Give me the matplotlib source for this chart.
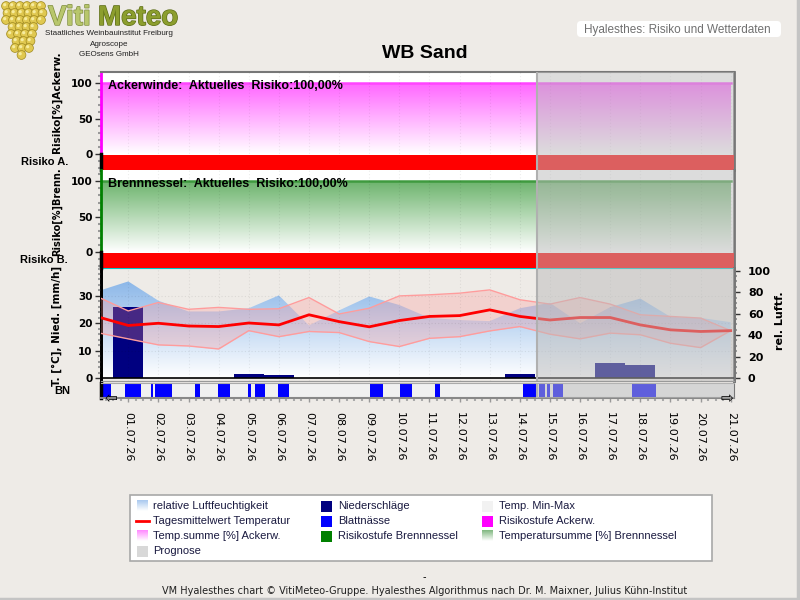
import numpy as np
import matplotlib
matplotlib.use('Agg')
import matplotlib.pyplot as plt
from matplotlib.colors import LinearSegmentedColormap
from matplotlib.patches import Rectangle, FancyBboxPatch, Circle
from matplotlib.ticker import MultipleLocator
import matplotlib.patheffects as pe

plt.rcParams['font.family'] = ['DejaVu Sans']

# ------------------------------------------------------------------ data
date_labels = ['01.07.26', '02.07.26', '03.07.26', '04.07.26', '05.07.26',
               '06.07.26', '07.07.26', '08.07.26', '09.07.26', '10.07.26',
               '11.07.26', '12.07.26', '13.07.26', '14.07.26', '15.07.26',
               '16.07.26', '17.07.26', '18.07.26', '19.07.26', '20.07.26',
               '21.07.26']
label_days = list(range(0, 21))
days = list(range(-1, 21))  # 0 = 01.07.26, -1 = 30.06.26

temp_mean = [22.3, 19.2, 20.0, 19.0, 18.8, 20.1, 19.4, 23.1, 20.6, 18.7, 21.0,
             22.5, 22.8, 24.9, 22.5, 21.2, 22.1, 22.1, 19.4, 17.6, 17.0, 17.3]
temp_max = [29.6, 24.5, 27.6, 25.1, 25.8, 25.1, 25.3, 29.4, 23.4, 25.5, 30.0,
            30.4, 31.0, 32.2, 28.6, 27.0, 29.4, 27.0, 23.1, 22.5, 21.9, 17.3]
temp_min = [16.5, 14.3, 12.1, 11.7, 10.6, 17.3, 15.1, 17.0, 16.6, 13.3, 11.5,
            14.5, 15.1, 17.2, 18.8, 16.0, 14.3, 16.4, 15.8, 12.7, 11.1, 17.3]
humidity = [81, 90, 72, 62, 62, 65, 77, 49, 63, 76, 68,
            56, 54, 53, 65, 70, 51, 66, 74, 57, 56, 52]
precip = [0, 25.8, 0, 0, 0, 1.6, 1.1, 0, 0, 0, 0,
          0, 0, 0, 1.6, 0, 0, 5.6, 4.9, 0, 0, 0]
tsum_ackerw = [100] * 22
tsum_brenn = [100] * 22
risk_ackerw = [3] * 22
risk_brenn = [3] * 22
risk_colors = {1: '#00c000', 2: '#ffff00', 3: '#ff0000'}

# leaf wetness (Blattnaesse) intervals, in days
bn_start = [-0.88, -0.11, 0.75, 0.90, 2.21, 2.98, 3.98, 4.21, 4.98, 8.02,
            9.02, 10.18, 13.11, 13.65, 13.90, 14.10, 16.73]
bn_end = [-0.57, 0.42, 0.83, 1.45, 2.38, 3.38, 4.07, 4.54, 5.34, 8.45,
          9.41, 10.35, 13.54, 13.84, 14.00, 14.42, 17.52]

prognose_start = 13.57
XLIM = (-0.906, 20.11)

# ------------------------------------------------------------------ helpers
W, H = 800, 600
BGC = '#eeebe7'


def fpos(x0, y0, x1, y1):
    return [x0 / W, 1 - y1 / H, (x1 - x0) / W, (y1 - y0) / H]


def gradient_area(ax, x, y, color, vmax, zorder=1):
    poly = ax.fill_between(x, 0, y, facecolor='none', edgecolor='none')
    cmap = LinearSegmentedColormap.from_list('g', ['#ffffff', color])
    grad = np.linspace(0, 1, 256).reshape(-1, 1)
    im = ax.imshow(grad, cmap=cmap, origin='lower', aspect='auto',
                   extent=[min(x), max(x), 0, vmax], zorder=zorder,
                   interpolation='bilinear')
    im.set_clip_path(poly.get_paths()[0], transform=ax.transData)


def prognose(ax):
    ax.axvspan(prognose_start, XLIM[1], facecolor='#bbbbbb', alpha=0.51,
               lw=0, zorder=10)
    ax.axvline(prognose_start, color='#b0b0b0', lw=1.5, zorder=11)


def day_grid(ax):
    for d in label_days:
        ax.axvline(d, color='#000000', alpha=0.07, lw=0.8, ls=(0, (1, 2)),
                   zorder=3)


fig = plt.figure(figsize=(8, 6), dpi=100, facecolor=BGC)

# background / decoration axes in pixel coordinates
bg = fig.add_axes([0, 0, 1, 1])
bg.set_xlim(0, W)
bg.set_ylim(H, 0)
bg.axis('off')

# ------------------------------------------------------------------ risk panels
def risk_panel(rect, tsum, risk, grad_color, line_color, spine_color, text):
    ax = fig.add_axes(rect)
    ax.set_facecolor('white')
    gradient_area(ax, days, tsum, grad_color, 100, zorder=1)
    ax.plot(days, tsum, color=line_color, lw=1.8, zorder=2)
    ax.bar(days, [-22.5 + 1.2] * len(days), bottom=-1.2, width=1.0,
           color=[risk_colors[r] for r in risk], lw=0, zorder=4)
    day_grid(ax)
    prognose(ax)
    ax.set_xlim(*XLIM)
    ax.set_ylim(-22.5, 116)
    ax.set_xticks([])
    ax.set_yticks([0, 50, 100], labels=['0', '50', '100'],
                  fontweight='bold', fontsize=7.5)
    ax.yaxis.set_minor_locator(MultipleLocator(10))
    ax.tick_params(axis='y', which='major', length=4, width=1, color='#333333',
                   pad=2)
    ax.tick_params(axis='y', which='minor', length=2.5, width=1.5,
                   color='#999999')
    ax.spines['left'].set_color(spine_color)
    ax.spines['left'].set_linewidth(2)
    ax.spines['right'].set_color('#777777')
    ax.spines['right'].set_linewidth(2)
    ax.spines['top'].set_color('#777777')
    ax.spines['top'].set_linewidth(1.5)
    ax.spines['bottom'].set_color('#00c8c8')
    ax.spines['bottom'].set_linewidth(1.5)
    ax.axvline(XLIM[0], ymin=0, ymax=22.5 / 138.5, color='black', lw=2.5,
               zorder=12, clip_on=False)
    ax.text(0.011, 0.86, text, transform=ax.transAxes, fontsize=9,
            fontweight='bold', family='Liberation Sans', va='center',
            zorder=13)
    return ax


ax1 = risk_panel(fpos(101, 72, 734, 170), tsum_ackerw, risk_ackerw,
                 '#ff66ff', '#ff44ff', '#ff00ff',
                 'Ackerwinde:  Aktuelles  Risiko:100,00%')
ax2 = risk_panel(fpos(101, 170, 734, 268), tsum_brenn, risk_brenn,
                 '#6db46d', '#3f9a3f', '#008000',
                 'Brennnessel:  Aktuelles  Risiko:100,00%')
ax2.spines['top'].set_visible(False)

# ------------------------------------------------------------------ weather panel
ax3 = fig.add_axes(fpos(101, 268, 734, 381))
ax3r = ax3.twinx()
ax3.set_zorder(ax3r.get_zorder() + 1)
ax3.patch.set_visible(False)
ax3r.set_facecolor('white')

gradient_area(ax3r, days, humidity, '#7fafe6', 100, zorder=1)

ax3.bar(days, precip, width=1.0, color='#000080', lw=0, zorder=2)
ax3.fill_between(days, temp_min, temp_max, color='#ff9090', alpha=0.28, lw=0,
                 zorder=3)
ax3.plot(days, temp_max, color='#ff9c9c', lw=1, zorder=4)
ax3.plot(days, temp_min, color='#ff9c9c', lw=1, zorder=4)
ax3.plot(days, temp_mean, color='#ff0000', lw=2, zorder=5)
ax3.axhline(0, color='black', lw=1.2, zorder=6)
for v in (10, 20, 30):
    ax3.axhline(v, color='#000000', alpha=0.08, lw=0.8, ls=(0, (1, 2)),
                zorder=3)
day_grid(ax3)
prognose(ax3)

ax3.set_xlim(*XLIM)
ax3r.set_xlim(*XLIM)
ax3.set_ylim(-1.1, 40.2)
ax3r.set_ylim(-2.8, 102.5)
ax3.set_xticks([])
ax3.set_yticks([0, 10, 20, 30], labels=['0', '10', '20', '30'],
               fontweight='bold', fontsize=7.5)
ax3.yaxis.set_minor_locator(MultipleLocator(2))
ax3r.set_yticks([0, 20, 40, 60, 80, 100],
                labels=['0', '20', '40', '60', '80', '100'],
                fontweight='bold', fontsize=8)
ax3r.yaxis.set_minor_locator(MultipleLocator(5))
for a in (ax3, ax3r):
    a.tick_params(axis='y', which='major', length=4, width=1,
                  color='#333333', pad=2)
    a.tick_params(axis='y', which='minor', length=2.5, width=1.5,
                  color='#999999')
ax3r.tick_params(axis='y', which='major', pad=6)
for a in (ax3, ax3r):
    a.spines['top'].set_visible(False)
    a.spines['bottom'].set_color('#999999')
    a.spines['left'].set_color('black')
    a.spines['left'].set_linewidth(2)
    a.spines['right'].set_color('#777777')
    a.spines['right'].set_linewidth(2)

# ------------------------------------------------------------------ BN strip
axbn = fig.add_axes(fpos(101, 383, 734, 398))
axbn.set_facecolor('#f0f0f0')
widths = [e - s for s, e in zip(bn_start, bn_end)]
axbn.broken_barh(list(zip(bn_start, widths)), (0.1, 0.9),
                 facecolor='#0000ff', lw=0, zorder=2)
axbn.broken_barh(list(zip(bn_start, widths)), (0.0, 0.1),
                 facecolor='#f0e000', lw=0, zorder=2)
prognose(axbn)
axbn.set_xlim(*XLIM)
axbn.set_ylim(0, 1)
axbn.set_yticks([])
axbn.set_xticks(label_days, labels=date_labels, rotation=270, fontsize=8,
                va='top', ha='center')
axbn.xaxis.set_minor_locator(MultipleLocator(0.25))
axbn.tick_params(axis='x', which='major', length=3, width=1,
                 color='#999999', pad=7)
axbn.tick_params(axis='x', which='minor', length=2, width=1.5,
                 color='#aaaaaa')
axbn.spines['left'].set_color('black')
axbn.spines['left'].set_linewidth(2.5)
axbn.spines['bottom'].set_color('#888888')
axbn.spines['bottom'].set_linewidth(1.5)
axbn.spines['top'].set_color('#aaaaaa')
axbn.spines['right'].set_color('#777777')
axbn.text(0.015, 0.0, '\u21e6', transform=axbn.transAxes, fontsize=11,
          ha='center', va='center', zorder=20, clip_on=False)
axbn.text(0.988, 0.0, '\u21e8', transform=axbn.transAxes, fontsize=11,
          ha='center', va='center', zorder=20, clip_on=False)

# ------------------------------------------------------------------ labels
lab_kw = dict(rotation=90, fontweight='bold', ha='center')
bg.text(57, 153, 'Risiko[%]Ackerw.', va='bottom', fontsize=7.5, **lab_kw)
bg.text(57, 256, 'Risiko[%]Brenn.', va='bottom', fontsize=7, **lab_kw)
bg.text(57, 326, 'T. [°C], Nied. [mm/h]', va='center', fontsize=7.5,
        **lab_kw)
bg.text(780, 321, 'rel. Luftf.', va='center', fontsize=8, **lab_kw)
bg.text(68, 162, 'Risiko A.', ha='right', va='center', fontsize=8,
        family='Liberation Sans', fontweight='bold')
bg.text(68, 260, 'Risiko B.', ha='right', va='center', fontsize=8,
        family='Liberation Sans', fontweight='bold')
bg.text(62, 391, 'BN', ha='center', va='center', fontsize=8,
        family='Liberation Sans', fontweight='bold')

bg.text(425, 53, 'WB Sand', ha='center', va='center', fontsize=14,
        fontweight='bold', family='Liberation Sans')

# top-right box
bg.add_patch(FancyBboxPatch((577, 21), 204, 16,
                            boxstyle='round,pad=0,rounding_size=4',
                            facecolor='white', edgecolor='none'))
bg.text(584, 29.5, 'Hyalesthes: Risiko und Wetterdaten', ha='left',
        va='center', fontsize=8.5, color='#707070', family='Liberation Sans')

# logo (grape cluster + word mark)
rows = [(6, 6, 42), (13, 4, 45), (20, 6, 44), (27, 9, 40), (34, 11, 36),
        (41, 13, 33), (48, 15, 31), (55, 18, 28)]
for i, (gy, gx0, gx1) in enumerate(rows):
    off = 0 if i % 2 == 0 else 3.5
    for gx in np.arange(gx0 + off, gx1, 7):
        bg.add_patch(Circle((gx, gy), 4.4, facecolor='#e0c850',
                            edgecolor='#a08a20', lw=0.5))
        bg.add_patch(Circle((gx - 1.3, gy - 1.3), 1.6, facecolor='#f6eca0',
                            edgecolor='none'))
bg.text(48, 25, 'Viti', ha='left', va='baseline', fontsize=20,
        fontweight='bold', family='Liberation Sans', color='#b8c66c',
        path_effects=[pe.withStroke(linewidth=1, foreground='#7d8c3a')])
bg.text(98, 25, 'Meteo', ha='left', va='baseline', fontsize=20,
        fontweight='bold', family='Liberation Sans', color='#8c9e2e',
        path_effects=[pe.withStroke(linewidth=1, foreground='#5e6e18')])
for txt, y in (('Staatliches Weinbauinstitut Freiburg', 33.5),
               ('Agroscope', 44), ('GEOsens GmbH', 54.5)):
    bg.text(109, y, txt, ha='center', va='center', fontsize=5.8,
            family='Liberation Sans', color='#202020')

# ------------------------------------------------------------------ legend
bg.add_patch(Rectangle((130, 495), 582, 66, facecolor='white',
                       edgecolor='#a8a8a8', lw=1.2))
col_hx = [137, 321, 482]
col_tx = [153, 338, 499]
row_y = [506, 521, 536, 551]
entries = [
    (0, 0, 'grad', '#a9c9ef', 'relative Luftfeuchtigkeit'),
    (1, 0, 'solid', '#000080', 'Niederschläge'),
    (2, 0, 'solid', '#f2f2f2', 'Temp. Min-Max'),
    (0, 1, 'line', '#ff0000', 'Tagesmittelwert Temperatur'),
    (1, 1, 'solid', '#0000ff', 'Blattnässe'),
    (2, 1, 'solid', '#ff00ff', 'Risikostufe Ackerw.'),
    (0, 2, 'grad', '#ff88ff', 'Temp.summe [%] Ackerw.'),
    (1, 2, 'solid', '#008000', 'Risikostufe Brennnessel'),
    (2, 2, 'grad', '#80b880', 'Temperatursumme [%] Brennnessel'),
    (0, 3, 'solid', '#d8d8d8', 'Prognose'),
]
hs = 11
for c, r, kind, col, lab in entries:
    hx, ty = col_hx[c], row_y[r]
    if kind == 'line':
        bg.plot([hx - 1, hx + hs + 1], [ty, ty], color=col, lw=2)
    elif kind == 'grad':
        cmap = LinearSegmentedColormap.from_list('lg', ['#ffffff', col])
        bg.imshow(np.linspace(1, 0, 40).reshape(-1, 1), cmap=cmap,
                  origin='upper', aspect='auto',
                  extent=(hx, hx + hs, ty + hs / 2, ty - hs / 2),
                  interpolation='bilinear', zorder=3)
    else:
        bg.add_patch(Rectangle((hx, ty - hs / 2), hs, hs, facecolor=col,
                               edgecolor='none', zorder=3))
    bg.text(col_tx[c], ty, lab, ha='left', va='center', fontsize=8,
            family='Liberation Sans', color='#1a1a40')

# footer
bg.text(424, 577, '-', ha='center', va='center', fontsize=7)
bg.text(425, 591, 'VM Hyalesthes chart \u00a9 VitiMeteo-Gruppe. Hyalesthes '
        'Algorithmus nach Dr. M. Maixner, Julius K\u00fchn-Institut',
        ha='center', va='center', fontsize=7, color='#202020')
bg.plot([0, W], [598.5, 598.5], color='#c4c4c4', lw=2.5)
bg.plot([797.5, 797.5], [0, H], color='#c4c4c4', lw=2.5)
bg.set_xlim(0, W)
bg.set_ylim(H, 0)

fig.savefig('out.png', dpi=100, facecolor=BGC)
